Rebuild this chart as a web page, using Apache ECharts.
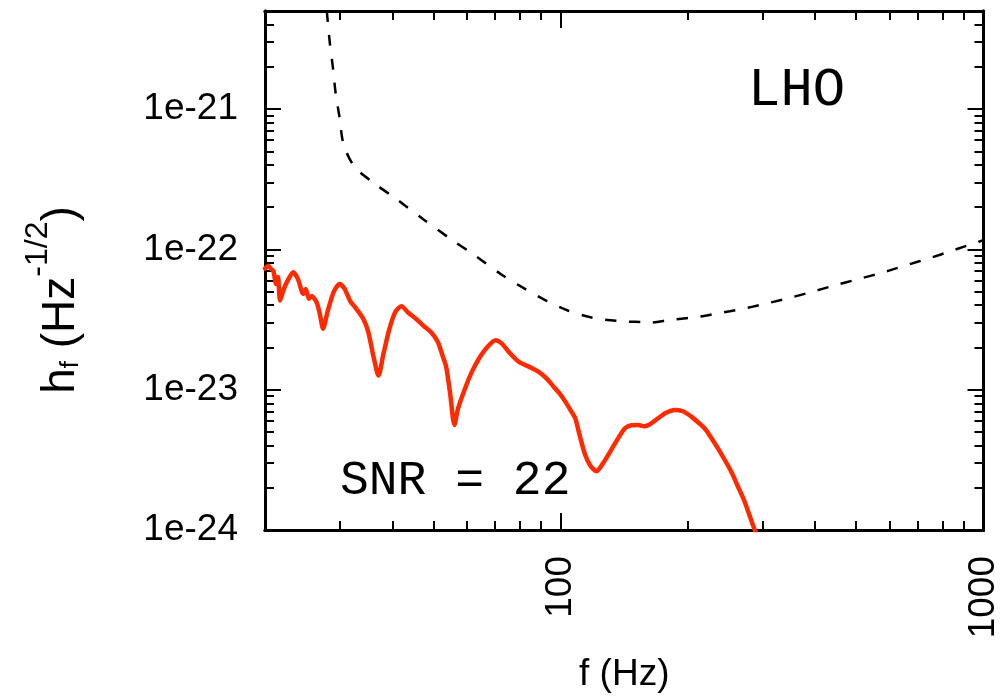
<!DOCTYPE html>
<html>
<head>
<meta charset="utf-8">
<script src="https://cdn.jsdelivr.net/npm/echarts@6/dist/echarts.min.js"></script>
<style>
  html, body { margin: 0; padding: 0; background: #ffffff; }
  #chart { width: 1002px; height: 698px; }
</style>
</head>
<body>
<div id="chart"></div>
<script>
// Signal amplitude spectrum h_f (Hz^-1/2) against frequency (Hz)
const signalFreq = [
  20.0, 20.37, 20.67, 20.93, 21.24, 21.47, 21.71, 22.09, 22.54, 23.32,
  23.92, 24.62, 24.98, 25.39, 25.77, 26.48, 26.95, 27.44, 28.15, 29.08,
  30.03, 30.86, 31.76, 32.88, 34.15, 35.09, 36.11, 37.10, 38.13, 39.39,
  40.69, 42.03, 43.65, 45.51, 47.34, 49.35, 51.26, 52.55, 53.62, 54.80,
  56.09, 57.23, 59.68, 61.75, 64.14, 66.98, 70.21, 72.64, 75.44, 79.63,
  84.07, 88.76, 92.71, 96.27, 99.45, 102.6, 105.6, 108.3, 110.9, 114.3,
  117.7, 121.7, 125.6, 129.7, 135.5, 142.0, 146.9, 152.6, 157.6, 162.8,
  170.1, 177.6, 186.2, 194.7, 203.7, 211.3, 219.0, 226.6, 235.4, 244.1,
  253.0, 262.3, 272.0, 284.5, 295.5
];
const signalAmp = [
  7.3e-23, 7.65e-23, 7.25e-23, 7.05e-23, 5.67e-23, 6.36e-23, 4.32e-23, 5.09e-23, 5.86e-23, 6.87e-23,
  6.16e-23, 4.82e-23, 5.23e-23, 4.44e-23, 4.66e-23, 4.21e-23, 3.48e-23, 2.72e-23, 3.65e-23, 4.98e-23,
  5.67e-23, 5.23e-23, 4.32e-23, 3.77e-23, 3.20e-23, 2.58e-23, 1.72e-23, 1.26e-23, 1.81e-23, 2.72e-23,
  3.59e-23, 3.93e-23, 3.53e-23, 3.20e-23, 2.86e-23, 2.58e-23, 2.19e-23, 1.76e-23, 1.46e-23, 9.41e-24,
  5.61e-24, 7.37e-24, 1.055e-23, 1.35e-23, 1.67e-23, 2.0e-23, 2.25e-23, 2.13e-23, 1.86e-23, 1.58e-23,
  1.46e-23, 1.34e-23, 1.20e-23, 1.05e-23, 9.41e-24, 8.22e-24, 7.13e-24, 6.26e-24, 4.74e-24, 3.44e-24,
  2.86e-24, 2.62e-24, 2.95e-24, 3.44e-24, 4.30e-24, 5.31e-24, 5.58e-24, 5.61e-24, 5.49e-24, 5.67e-24,
  6.26e-24, 6.85e-24, 7.17e-24, 7.02e-24, 6.43e-24, 5.86e-24, 5.31e-24, 4.59e-24, 3.83e-24, 3.18e-24,
  2.62e-24, 2.06e-24, 1.61e-24, 1.10e-24, 8.13e-25
];

// Detector noise amplitude spectrum
const noiseFreq = [
  28.0, 28.45, 28.96, 29.38, 30.03, 30.69, 32.58, 36.31, 41.19, 47.34,
  55.03, 63.19, 72.13, 81.85, 92.35, 104.0, 120.2, 139.9, 156.8, 161.1,
  182.8, 209.3, 237.5, 269.6, 297.6, 340.8, 390.2, 443.1, 507.3, 580.8,
  659.0, 747.3, 840.8, 962.7, 1000
];
const noiseAmp = [
  5.0e-21, 3.015e-21, 1.954e-21, 1.299e-21, 8.63e-22, 5.58e-22, 3.88e-22, 2.95e-22, 2.247e-22, 1.64e-22,
  1.183e-22, 8.92e-23, 6.68e-23, 5.29e-23, 4.32e-23, 3.67e-23, 3.24e-23, 3.07e-23, 3.035e-23, 3.0e-23,
  3.15e-23, 3.29e-23, 3.52e-23, 3.77e-23, 4.03e-23, 4.44e-23, 4.95e-23, 5.52e-23, 6.16e-23, 6.87e-23,
  7.74e-23, 8.68e-23, 9.77e-23, 1.12e-22, 1.164e-22
];

// Tick positions
const xMajorTicks = [100, 1000];
const xMinorTicks = [30, 40, 50, 60, 70, 80, 90, 200, 300, 400, 500, 600, 700, 800, 900];
const yMajorTicks = [1e-24, 1e-23, 1e-22, 1e-21];
const yMinorTicks = [
  2e-24, 3e-24, 4e-24, 5e-24, 6e-24, 7e-24, 8e-24, 9e-24,
  2e-23, 3e-23, 4e-23, 5e-23, 6e-23, 7e-23, 8e-23, 9e-23,
  2e-22, 3e-22, 4e-22, 5e-22, 6e-22, 7e-22, 8e-22, 9e-22,
  2e-21, 3e-21, 4e-21
];

const X_MIN = 20, X_MAX = 1000;
const Y_MIN = 1e-24, Y_MAX = 5e-21;

// The value axis works in units of 1e-24 so that the log scale keeps full precision
const Y_EXP = 24;
const toAxis = v => Math.round(v * Math.pow(10, Y_EXP) * 1e6) / 1e6;

const sansFont = '"Liberation Sans", Arial, Helvetica, sans-serif';
const monoFont = '"Courier New", "Liberation Mono", monospace';

function xAxisDef(position, ticks, tickLen, withLabels) {
  return {
    type: 'log', logBase: 10, min: X_MIN, max: X_MAX, position: position,
    axisLine: { show: true, onZero: false, lineStyle: { color: '#000', width: 3 } },
    axisTick: { show: true, inside: true, length: tickLen, customValues: ticks,
                lineStyle: { color: '#000', width: 2 } },
    axisLabel: withLabels ? {
      show: true, customValues: ticks, rotate: 90, margin: 26,
      fontSize: 37, fontFamily: sansFont, color: '#000',
      formatter: v => String(Math.round(v))
    } : { show: false },
    splitLine: { show: false }
  };
}

function yAxisDef(position, ticks, tickLen, withLabels) {
  return {
    type: 'log', logBase: 10, min: toAxis(Y_MIN), max: toAxis(Y_MAX), position: position,
    axisLine: { show: true, onZero: false, lineStyle: { color: '#000', width: 3 } },
    axisTick: { show: true, inside: true, length: tickLen, customValues: ticks.map(toAxis),
                lineStyle: { color: '#000', width: 2 } },
    axisLabel: withLabels ? {
      show: true, customValues: ticks.map(toAxis), margin: 27,
      fontSize: 37, fontFamily: sansFont, color: '#000',
      formatter: v => '1e' + (Math.round(Math.log10(v)) - Y_EXP)
    } : { show: false },
    splitLine: { show: false }
  };
}

function points(freq, amp) { return freq.map((f, i) => [f, toAxis(amp[i])]); }

const xBottom = xAxisDef('bottom', xMajorTicks, 17, true);
xBottom.name = 'f (Hz)';
xBottom.nameLocation = 'middle';
xBottom.nameGap = 126;
xBottom.nameTextStyle = { fontSize: 37, fontFamily: sansFont, color: '#000' };

const chart = echarts.init(document.getElementById('chart'), null, { renderer: 'canvas' });

chart.setOption({
  backgroundColor: '#ffffff',
  animation: false,
  grid: { left: 265, right: 15, top: 11, bottom: 167 },
  xAxis: [
    xBottom,
    xAxisDef('bottom', xMinorTicks, 9, false),
    xAxisDef('top', xMajorTicks, 17, false),
    xAxisDef('top', xMinorTicks, 9, false)
  ],
  yAxis: [
    yAxisDef('left', yMajorTicks, 16, true),
    yAxisDef('left', yMinorTicks, 9, false),
    yAxisDef('right', yMajorTicks, 16, false),
    yAxisDef('right', yMinorTicks, 9, false)
  ],
  series: [
    {
      name: 'noise', type: 'line', xAxisIndex: 0, yAxisIndex: 0,
      data: points(noiseFreq, noiseAmp),
      showSymbol: false, smooth: 0.3, clip: true,
      lineStyle: { color: '#000', width: 2.5, type: [11, 13] },
      z: 3
    },
    {
      name: 'signal', type: 'line', xAxisIndex: 0, yAxisIndex: 0,
      data: points(signalFreq, signalAmp),
      showSymbol: false, smooth: 0.25, clip: true,
      lineStyle: { color: '#ff2a00', width: 4.5, join: 'round', cap: 'round' },
      z: 4
    }
  ],
  graphic: [
    {
      // vertical axis title with subscript and superscript
      type: 'text', x: 53, y: 300, rotation: Math.PI / 2,
      style: {
        text: '{m|h}{s|f}{m| (Hz}{p|-1/2}{m|)}',
        align: 'center', verticalAlign: 'middle',
        rich: {
          m: { fontSize: 46, fontFamily: sansFont, fill: '#000', lineHeight: 62, verticalAlign: 'bottom' },
          s: { fontSize: 26, fontFamily: sansFont, fill: '#000', lineHeight: 30, verticalAlign: 'bottom' },
          p: { fontSize: 32, fontFamily: sansFont, fill: '#000', lineHeight: 30, verticalAlign: 'top' }
        }
      }
    },
    {
      type: 'text', x: 748, y: 91,
      style: { text: 'LHO', fontSize: 54, fontFamily: monoFont, fill: '#000',
               align: 'left', verticalAlign: 'middle' }
    },
    {
      type: 'text', x: 340, y: 481,
      style: { text: 'SNR = 22', fontSize: 48, fontFamily: monoFont, fill: '#000',
               align: 'left', verticalAlign: 'middle' }
    }
  ]
});
</script>
</body>
</html>
